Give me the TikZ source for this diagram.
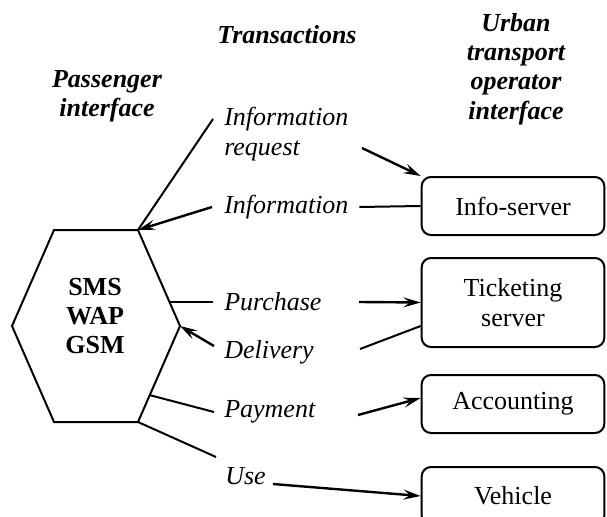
\documentclass[tikz,border=0pt]{standalone}
\usepackage{fontspec}
\setmainfont{Liberation Serif}
\usetikzlibrary{arrows.meta,calc}

\begin{document}
\begin{tikzpicture}[x=0.75pt,y=0.75pt,yscale=-1,
    every node/.style={font=\fontsize{19.5}{22}\selectfont},
    trans/.style={anchor=west, inner sep=0pt, align=left, font=\fontsize{19.5}{22}\selectfont\itshape},
    head/.style={align=center, inner sep=0pt, font=\fontsize{19.5}{22}\selectfont\bfseries\itshape},
    server/.style={draw, line width=1.5pt, rounded corners=7pt, minimum width=137pt, inner sep=0pt, align=center},
    link/.style={line width=1.5pt},
    flow/.style={line width=1.8pt, -{Stealth[length=13pt, width=7.5pt, inset=5pt]}}
]
    \useasboundingbox (0,0) rectangle (607,517);

    %Headers
    \node[head] (passhead) at (107,96) {Passenger\\interface};
    \node[head] (transhead) at (287,35) {Transactions};
    \node[head] (operhead) at (516,69) {Urban\\transport\\operator\\interface};

    %Shape: Hexagon
    \coordinate (hA) at (54,230);
    \coordinate (hB) at (138,230);
    \coordinate (hC) at (180,326);
    \coordinate (hD) at (138,422);
    \coordinate (hE) at (54,422);
    \coordinate (hF) at (12,326);
    \draw[link, line join=miter] (hA) -- (hB) -- (hC) -- (hD) -- (hE) -- (hF) -- cycle;
    \node[align=center, inner sep=0pt, font=\fontsize{19.5}{22}\selectfont\bfseries] (hextext) at (95,316) {SMS\\WAP\\GSM};

    %Servers
    \node[server, minimum height=43.5pt] (info) at (513,206) {Info-server};
    \node[server, minimum height=66.75pt] (ticket) at (513,302.5) {Ticketing\\server};
    \node[server, minimum height=43.5pt] (account) at (513,404) {Accounting};
    \node[server, minimum height=43.5pt] (vehicle) at (513,496) {Vehicle};

    %Transactions
    \node[trans] (inforeq) at (224,134) {Information\\request};
    \node[trans] (infor) at (224,207) {Information};
    \node[trans] (purch) at (224,302) {Purchase};
    \node[trans] (deliv) at (224,352) {Delivery};
    \node[trans] (pay) at (224,412) {Payment};
    \node[trans] (use) at (225,476) {Use};

    %Free ends
    \coordinate (reqtail) at (213,119);
    \coordinate (reqstart) at (362,148);
    \coordinate (infotail) at (212,207);
    \coordinate (delivtail) at (214,346);
    \coordinate (delivend) at (360,349);
    \coordinate (paytail) at (214,412);
    \coordinate (paystart) at (358,415);
    \coordinate (usetail) at (216,457);
    \coordinate (usestart) at (273,484);

    %Connectors
    \draw[link] (hB) -- (reqtail);
    \draw[flow] (reqstart) -- (info.north west);
    \draw[flow] (infotail) -- (hB);
    \draw[link] ([xshift=8pt]infor.east) -- (info.west);
    \draw[link] ($(hB)!0.75!(hC)$) -- ([xshift=-8pt]purch.west);
    \draw[flow] ([xshift=28pt]purch.east) -- (ticket.west);
    \draw[flow] (delivtail) -- (hC);
    \draw[link] (delivend) -- ($(ticket.west)+(0,23.5)$);
    \draw[link] ($(hC)!0.72!(hD)$) -- (paytail);
    \draw[flow] (paystart) -- ($(account.west)+(0,-6)$);
    \draw[link] (hD) -- (usetail);
    \draw[flow] (usestart) -- (vehicle.west);
\end{tikzpicture}
\end{document}
